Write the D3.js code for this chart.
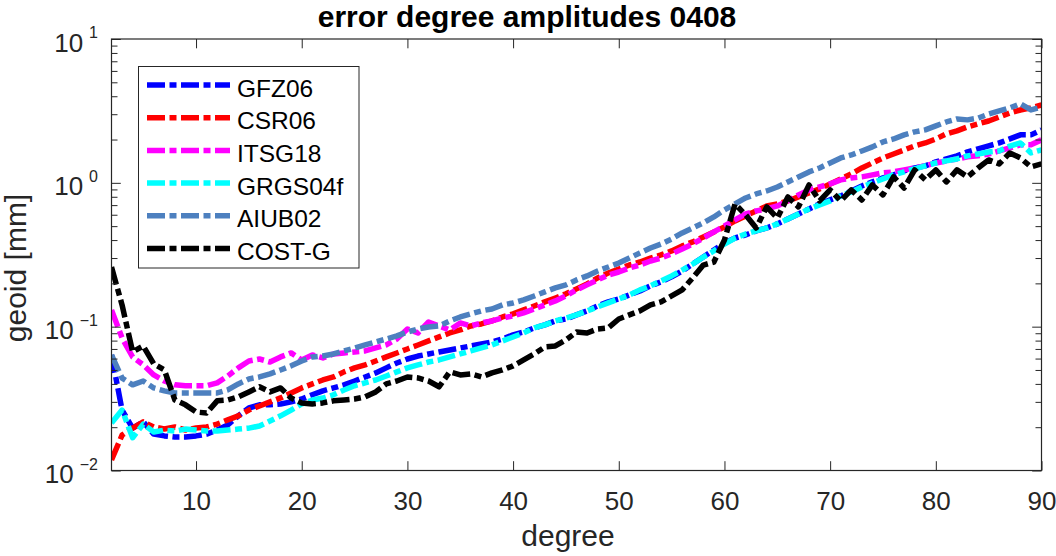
<!DOCTYPE html>
<html><head><meta charset="utf-8">
<script src="https://cdn.jsdelivr.net/npm/d3@7"></script>
<style>body{margin:0;background:#fff} svg{display:block} text{font-family:"Liberation Sans",Arial,Helvetica,sans-serif}</style>
</head><body><svg id="c" width="1056" height="556"></svg>
<script>
const degrees = d3.range(2, 91);
const seriesNames = ["GFZ06","CSR06","ITSG18","GRGS04f","AIUB02","COST-G"];
const seriesColors = ["#0000ff","#ff0000","#ff00ff","#00ffff","#4d80bf","#000000"];

const GFZ06 = [0.0636,0.0263,0.0197,0.0218,0.0179,0.0174,0.0171,0.0171,0.0174,0.0179,
0.0191,0.0207,0.0240,0.0272,0.0286,0.0286,0.0290,0.0300,0.0314,0.0336,
0.0358,0.0375,0.0394,0.0419,0.0447,0.0477,0.0517,0.0559,0.0596,0.0625,
0.0646,0.0667,0.0689,0.0711,0.0734,0.0758,0.0783,0.0821,0.0877,0.0918,
0.0980,0.1028,0.1096,0.1131,0.1207,0.1287,0.1393,0.1486,0.1558,0.1662,
0.1773,0.1921,0.2048,0.2219,0.2437,0.2726,0.3050,0.3417,0.3817,0.4135,
0.4342,0.4630,0.4856,0.5180,0.5610,0.6075,0.6583,0.7131,0.7605,0.8107,
0.8784,0.9513,1.015,1.082,1.136,1.210,1.270,1.312,1.399,1.466,
1.539,1.641,1.721,1.808,1.894,2.019,2.155,2.155,2.334];

const CSR06 = [0.01184,0.01763,0.01974,0.02178,0.02007,0.01944,0.02007,0.01913,0.01974,0.02007,
0.02104,0.02248,0.02397,0.02632,0.02806,0.02997,0.03195,0.03463,0.03750,0.0400,
0.0426,0.0447,0.0485,0.0517,0.0542,0.0577,0.0616,0.0656,0.0700,0.0746,
0.0796,0.0849,0.0904,0.0949,0.1012,0.1044,0.1096,0.1168,0.1227,0.1307,
0.1393,0.1486,0.1583,0.1691,0.1831,0.1983,0.2183,0.2360,0.2517,0.2684,
0.2816,0.3000,0.3153,0.3363,0.3643,0.3882,0.4204,0.4557,0.4937,0.5433,
0.5888,0.6377,0.6907,0.7134,0.7485,0.7980,0.8508,0.9071,0.983,1.065,
1.154,1.269,1.375,1.489,1.586,1.693,1.806,1.893,2.019,2.19,
2.30,2.45,2.57,2.69,2.87,3.06,3.21,3.32,3.48];

const ITSG18 = [0.1306,0.0834,0.0615,0.0543,0.0462,0.0419,0.0394,0.0388,0.0388,0.0388,
0.0407,0.0454,0.0517,0.0577,0.0596,0.0568,0.0616,0.0657,0.0587,0.0636,
0.0606,0.0646,0.0657,0.0667,0.0678,0.0711,0.0746,0.0821,0.0964,0.0904,
0.1078,0.1012,0.0949,0.1061,0.1012,0.1061,0.1096,0.1149,0.1187,0.1246,
0.1328,0.1416,0.1510,0.1635,0.1802,0.1952,0.2114,0.2285,0.2399,0.2557,
0.2684,0.2861,0.3000,0.3205,0.3472,0.3757,0.4135,0.4557,0.5016,0.552,
0.608,0.638,0.658,0.691,0.749,0.824,0.893,0.937,0.983,1.048,
1.082,1.100,1.136,1.173,1.192,1.230,1.270,1.312,1.375,1.421,
1.466,1.516,1.540,1.588,1.667,1.750,1.837,1.837,1.99];

const GRGS04f = [0.0214,0.0263,0.0169,0.0210,0.0185,0.0191,0.0188,0.0194,0.0191,0.0188,
0.0188,0.0191,0.0194,0.0197,0.0204,0.0221,0.0240,0.0263,0.0290,0.0309,
0.0319,0.0336,0.0363,0.0388,0.0407,0.0426,0.0454,0.0485,0.0517,0.0542,
0.0568,0.0587,0.0616,0.0646,0.0678,0.0711,0.0746,0.0796,0.0848,0.0904,
0.0980,0.1028,0.1096,0.1149,0.1207,0.1287,0.1371,0.1462,0.1558,0.1662,
0.1802,0.1921,0.2081,0.2254,0.2476,0.2726,0.3050,0.3363,0.3757,0.4135,
0.4410,0.4630,0.4856,0.5180,0.5610,0.6075,0.6583,0.7022,0.7485,0.8107,
0.8649,0.9366,0.998,1.065,1.136,1.191,1.250,1.312,1.375,1.421,
1.466,1.539,1.588,1.640,1.666,1.80,1.894,1.614,1.694];

const AIUB02 = [0.0636,0.0439,0.0394,0.0419,0.0375,0.0358,0.0346,0.0346,0.0346,0.0346,
0.0346,0.0363,0.0400,0.0433,0.0447,0.0470,0.0500,0.0534,0.0577,0.0616,
0.0626,0.0646,0.0678,0.0711,0.0746,0.0783,0.0821,0.0862,0.0918,0.0964,
0.0995,0.1012,0.1096,0.1168,0.1227,0.1287,0.1328,0.1416,0.1462,0.1534,
0.1635,0.1745,0.186,0.1952,0.2114,0.2254,0.2437,0.2598,0.2768,0.3000,
0.3256,0.3524,0.3757,0.4070,0.4484,0.4855,0.5262,0.5794,0.648,0.713,
0.785,0.837,0.878,0.936,1.015,1.099,1.191,1.269,1.375,1.489,
1.562,1.666,1.778,1.926,2.019,2.155,2.262,2.334,2.49,2.65,
2.78,2.74,2.82,3.01,3.16,3.32,3.54,3.21,3.37];

const COSTG = [0.2597,0.1416,0.0668,0.0734,0.0551,0.0500,0.0309,0.0286,0.0255,0.0251,
0.0305,0.0309,0.0325,0.0352,0.0382,0.0352,0.0375,0.0319,0.0295,0.0290,
0.0295,0.0305,0.0309,0.0314,0.0325,0.0352,0.0400,0.0419,0.0447,0.0440,
0.0419,0.0382,0.0485,0.0462,0.0470,0.0447,0.0477,0.0500,0.0534,0.0587,
0.0646,0.0723,0.0734,0.0809,0.0918,0.0904,0.0964,0.0980,0.1131,0.1207,
0.1287,0.1416,0.1486,0.1635,0.1802,0.2183,0.2681,0.2816,0.4008,0.713,
0.599,0.4855,0.680,0.570,0.798,0.680,0.967,0.749,0.893,0.749,
0.893,0.760,0.967,0.824,1.099,0.921,1.230,1.048,1.230,1.015,
1.230,1.099,1.269,1.443,1.354,1.614,1.490,1.290,1.354];

const xTicks = [10,20,30,40,50,60,70,80,90];
const yMajor = [0.01,0.1,1,10];
const yExp = ["\u22122","\u22121","0","1"];
const minorMult = [2,3,4,5,6,7,8,9];
const titleText = "error degree amplitudes 0408";
const xLabel = "degree";
const yLabel = "geoid [mm]";

const seriesValues = [GFZ06, CSR06, ITSG18, GRGS04f, AIUB02, COSTG];

const svg = d3.select("#c");
const axisColor = "#262626";
const x = d3.scaleLinear().domain([2, 90]).range([111.5, 1041.5]);
const y = d3.scaleLog().domain([0.01, 10]).range([470.5, 39]);
const yMinor = [];
yMajor.slice(0, 3).forEach(b => minorMult.forEach(m => yMinor.push(b * m)));

svg.append("rect").attr("width",1056).attr("height",556).attr("fill","#fff");

svg.append("defs").append("clipPath").attr("id","clip")
  .append("rect").attr("x", x(2)).attr("y", y(10))
  .attr("width", x(90) - x(2)).attr("height", y(0.01) - y(10));

// lines
const dash = "18,4.5,7,4.5";
const line = d3.line().x((d, i) => x(degrees[i])).y(d => y(d));
const gLines = svg.append("g").attr("clip-path","url(#clip)");
seriesValues.forEach((vals, k) => {
  gLines.append("path").attr("d", line(vals))
    .attr("fill","none").attr("stroke", seriesColors[k])
    .attr("stroke-width", 5.5).attr("stroke-dasharray", dash)
    .attr("stroke-linejoin","round").attr("stroke-linecap","butt");
});

function styleAxis(g) {
  g.select(".domain").remove();
  g.selectAll(".tick line").attr("stroke", axisColor).attr("stroke-width", 1);
  g.selectAll(".tick text").attr("fill", axisColor).attr("font-size", 26)
    .attr("font-family", '"Liberation Sans",Arial,sans-serif');
}

// bottom / top axes
svg.append("g").attr("transform", `translate(0,${y(0.01)})`)
  .call(d3.axisBottom(x).tickValues(xTicks).tickSize(-9.3).tickPadding(21).tickFormat(d3.format("d")))
  .call(styleAxis);
svg.append("g").attr("transform", `translate(0,${y(10)})`)
  .call(d3.axisTop(x).tickValues(xTicks).tickSize(-9.3).tickFormat(""))
  .call(styleAxis);

// left / right axes
svg.append("g").attr("transform", `translate(${x(2)},0)`)
  .call(d3.axisLeft(y).tickValues(yMajor).tickSize(-9.3).tickFormat(""))
  .call(styleAxis);
svg.append("g").attr("transform", `translate(${x(2)},0)`)
  .call(d3.axisLeft(y).tickValues(yMinor).tickSize(-6).tickFormat(""))
  .call(styleAxis);
svg.append("g").attr("transform", `translate(${x(90)},0)`)
  .call(d3.axisRight(y).tickValues(yMajor).tickSize(-9.3).tickFormat(""))
  .call(styleAxis);
svg.append("g").attr("transform", `translate(${x(90)},0)`)
  .call(d3.axisRight(y).tickValues(yMinor).tickSize(-6).tickFormat(""))
  .call(styleAxis);

// box
svg.append("rect").attr("x", x(2)).attr("y", y(10))
  .attr("width", x(90) - x(2)).attr("height", y(0.01) - y(10))
  .attr("fill","none").attr("stroke", axisColor).attr("stroke-width", 1.2);

// y tick labels 10^k
const gYL = svg.append("g");
yMajor.forEach((v, i) => {
  const t = gYL.append("text").attr("x", 98).attr("y", y(v) + 12.5)
    .attr("text-anchor","end").attr("font-size", 26).attr("fill", axisColor);
  t.append("tspan").text("10");
  t.append("tspan").attr("dx", 6).attr("dy", -13.5).attr("font-size", 16).text(yExp[i]);
});

// labels and title
svg.append("text").attr("x", 527).attr("y", 27).attr("text-anchor","middle")
  .attr("font-size", 30).attr("font-weight","bold").attr("fill","#000").text(titleText);
svg.append("text").attr("x", 568).attr("y", 546).attr("text-anchor","middle")
  .attr("font-size", 30).attr("fill", axisColor).text(xLabel);
svg.append("text").attr("transform","translate(26,268) rotate(-90)").attr("text-anchor","middle")
  .attr("font-size", 30).attr("fill", axisColor).text(yLabel);

// legend
const leg = svg.append("g");
leg.append("rect").attr("x", 138.5).attr("y", 66.5).attr("width", 220.5).attr("height", 201.5)
  .attr("fill","#fff").attr("stroke", axisColor).attr("stroke-width", 1);
seriesNames.forEach((name, k) => {
  const ly = 85 + k * 32.7;
  leg.append("line").attr("x1", 147).attr("x2", 230).attr("y1", ly).attr("y2", ly)
    .attr("stroke", seriesColors[k]).attr("stroke-width", 5.5).attr("stroke-dasharray", dash);
  leg.append("text").attr("x", 237).attr("y", ly + 11.5).attr("font-size", 24.5)
    .attr("fill","#000").text(name);
});
</script></body></html>
